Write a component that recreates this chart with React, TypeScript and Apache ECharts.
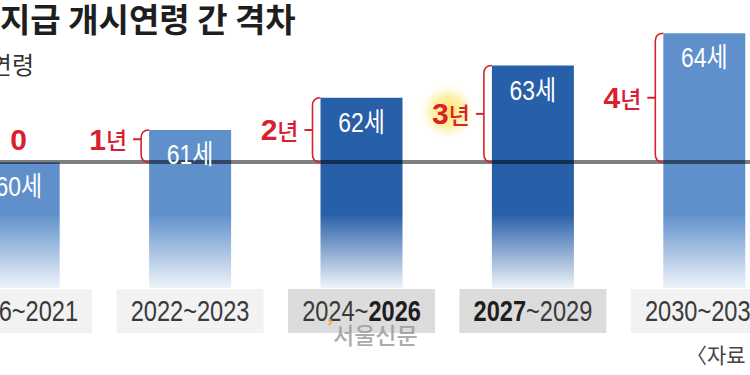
import React, { useEffect, useRef } from 'react';
import * as echarts from 'echarts';

const PERIOD_START = ['2016', '2022', '2024', '2027', '2030'];
const PERIOD_END = ['2021', '2023', '2026', '2029', '2033'];
const BOLD_PART = ['', '', 'end', 'start', ''];
const PENSION_AGE = [60, 61, 62, 63, 64];
const GAP_YEARS = [0, 1, 2, 3, 4];
const RETIREMENT_AGE = 60;
const EMPHASIZED = [false, false, true, true, false];
const GLOW_INDEX = 3;
const TITLE = '지급 개시연령 간 격차';
const SUBTITLE = '연령';
const SOURCE = '〈자료';
const WATERMARK = '서울신문';

const Y_MIN = 56.1;
const Y_MAX = 65;
const FADE_VALUE = 58.4;
const BAR_WIDTH = 82;
const BOX_WIDTH = 147;
const BOX_HEIGHT = 44;
const RED = '#d8202f';
const LAT = '"Liberation Sans", "Noto Sans CJK KR", sans-serif';
const KR = '"Noto Sans CJK KR", sans-serif';

export default function App() {
  const ref = useRef<HTMLDivElement>(null);
  useEffect(() => {
    if (!ref.current) return;
    const chart = echarts.init(ref.current, null, { renderer: 'svg' });
    const categories = PERIOD_START.map((s, i) => `${s}~${PERIOD_END[i]}`);
    const redRich = {
      n: { fontFamily: '"Liberation Sans", sans-serif', fontWeight: 'bold', fontSize: 30, fill: RED },
      u: { fontFamily: KR, fontWeight: 500, fontSize: 23, fill: RED },
    };
    const catRich = {
      r: { fontFamily: LAT, fontSize: 29.5, fill: '#3a3a3a' },
      b: { fontFamily: LAT, fontSize: 29.5, fontWeight: 'bold', fill: '#1e1e1e' },
    };
    const option: any = {
      animation: false,
      backgroundColor: '#ffffff',
      grid: { left: -67, right: -40, top: 1, bottom: 87, outerBoundsMode: 'none', containLabel: false },
      xAxis: {
        type: 'category',
        data: categories,
        axisLine: { show: false },
        axisTick: { show: false },
        axisLabel: { show: false },
      },
      yAxis: { type: 'value', min: Y_MIN, max: Y_MAX, show: false, splitLine: { show: false } },
      graphic: [
        { type: 'text', left: 0, top: 1, style: { text: TITLE, font: `bold 33px ${KR}`, fill: '#1e1e1e' } },
        { type: 'text', x: 34, y: 51, style: { text: SUBTITLE, font: `24px ${KR}`, fill: '#333', align: 'right' } },
        { type: 'text', x: 686, y: 343, style: { text: SOURCE, font: `21px ${KR}`, fill: '#444' } },
        { type: 'text', x: 333, y: 322, z: 20, style: { text: WATERMARK, font: `500 23px ${KR}`, fill: 'rgba(150,150,150,0.8)' } },
        { type: 'text', x: 327, y: 316, z: 20, style: { text: '’', font: `bold 18px ${KR}`, fill: '#f0a040' } },
      ],
      series: [
        {
          type: 'bar',
          barWidth: BAR_WIDTH,
          z: 2,
          data: PENSION_AGE.map((v, i) => {
            const c = EMPHASIZED[i] ? '#285fa9' : '#6090cb';
            const f = (v - FADE_VALUE) / (v - Y_MIN);
            return {
              value: v,
              itemStyle: {
                color: {
                  type: 'linear', x: 0, y: 0, x2: 0, y2: 1,
                  colorStops: [
                    { offset: 0, color: c },
                    { offset: f, color: c },
                    { offset: 1, color: '#eef3f9' },
                  ],
                },
              },
            };
          }),
          markLine: {
            silent: true,
            symbol: 'none',
            z: 5,
            label: { show: false },
            lineStyle: { color: 'rgba(0,0,0,0.5)', width: 4, type: 'solid' },
            data: [{ yAxis: RETIREMENT_AGE }],
          },
        },
        {
          type: 'custom',
          z: 10,
          silent: true,
          data: PENSION_AGE.map((v, i) => [i, v, GAP_YEARS[i]]),
          encode: { x: 0, y: 1 },
          renderItem: (params: any, api: any) => {
            const i = api.value(0);
            const v = api.value(1);
            const g = api.value(2);
            const top = api.coord([i, v]);
            const base = api.coord([i, RETIREMENT_AGE]);
            const bottom = api.coord([i, Y_MIN]);
            const cx = top[0];
            const yTop = top[1];
            const yBase = base[1];
            const yBottom = bottom[1];
            const barLeft = cx - BAR_WIDTH / 2;
            const labelY = Math.min((yTop + yBase) / 2, yBase - 23);
            const text = `{n|${g}}` + (g > 0 ? '{u|년}' : '');
            const children: any[] = [];
            const [a, b] = categories[i].split('~');
            const bp = BOLD_PART[i];
            children.push({
              type: 'rect',
              shape: { x: cx - BOX_WIDTH / 2, y: yBottom + 1, width: BOX_WIDTH, height: BOX_HEIGHT },
              style: { fill: EMPHASIZED[i] ? '#dcdcdc' : '#f2f2f2' },
            });
            children.push({
              type: 'text',
              x: cx,
              y: yBottom + 1 + BOX_HEIGHT / 2,
              scaleX: 0.8,
              style: {
                text: `{${bp === 'start' ? 'b' : 'r'}|${a}}{r|~}{${bp === 'end' ? 'b' : 'r'}|${b}}`,
                align: 'center',
                verticalAlign: 'middle',
                rich: catRich,
              },
            });
            children.push({
              type: 'text',
              x: cx,
              y: yTop + 11,
              scaleX: 0.85,
              style: {
                text: `${v}세`,
                align: 'center',
                verticalAlign: 'top',
                fontFamily: LAT,
                fontSize: 27,
                fill: '#ffffff',
              },
            });
            if (g > 0) {
              const bx = barLeft - 8;
              const r = 8;
              children.push({
                type: 'path',
                shape: {
                  pathData: `M${barLeft} ${yTop} Q${bx} ${yTop} ${bx} ${yTop + r} L${bx} ${yBase - r} Q${bx} ${yBase} ${barLeft} ${yBase}`,
                },
                style: { fill: 'none', stroke: RED, lineWidth: 1.6 },
              });
              children.push({
                type: 'line',
                shape: { x1: bx - 8, y1: labelY, x2: bx, y2: labelY },
                style: { stroke: RED, lineWidth: 2 },
              });
              const right = bx - 14;
              if (i === GLOW_INDEX) {
                children.push({
                  type: 'circle',
                  shape: { cx: right - 22, cy: labelY - 2, r: 30 },
                  style: {
                    fill: {
                      type: 'radial', x: 0.5, y: 0.5, r: 0.5,
                      colorStops: [
                        { offset: 0, color: 'rgba(255,225,90,0.95)' },
                        { offset: 0.55, color: 'rgba(255,238,150,0.75)' },
                        { offset: 1, color: 'rgba(255,255,255,0)' },
                      ],
                    },
                  },
                });
              }
              children.push({
                type: 'text',
                x: right,
                y: labelY,
                style: { text, align: 'right', verticalAlign: 'middle', rich: redRich },
              });
            } else {
              children.push({
                type: 'text',
                x: cx,
                y: labelY,
                style: { text, align: 'center', verticalAlign: 'middle', rich: redRich },
              });
            }
            return { type: 'group', children };
          },
        },
      ],
    };
    chart.setOption(option);
    return () => chart.dispose();
  }, []);
  return <div ref={ref} style={{ position: 'fixed', left: 0, top: 0, width: 750, height: 375 }} />;
}
